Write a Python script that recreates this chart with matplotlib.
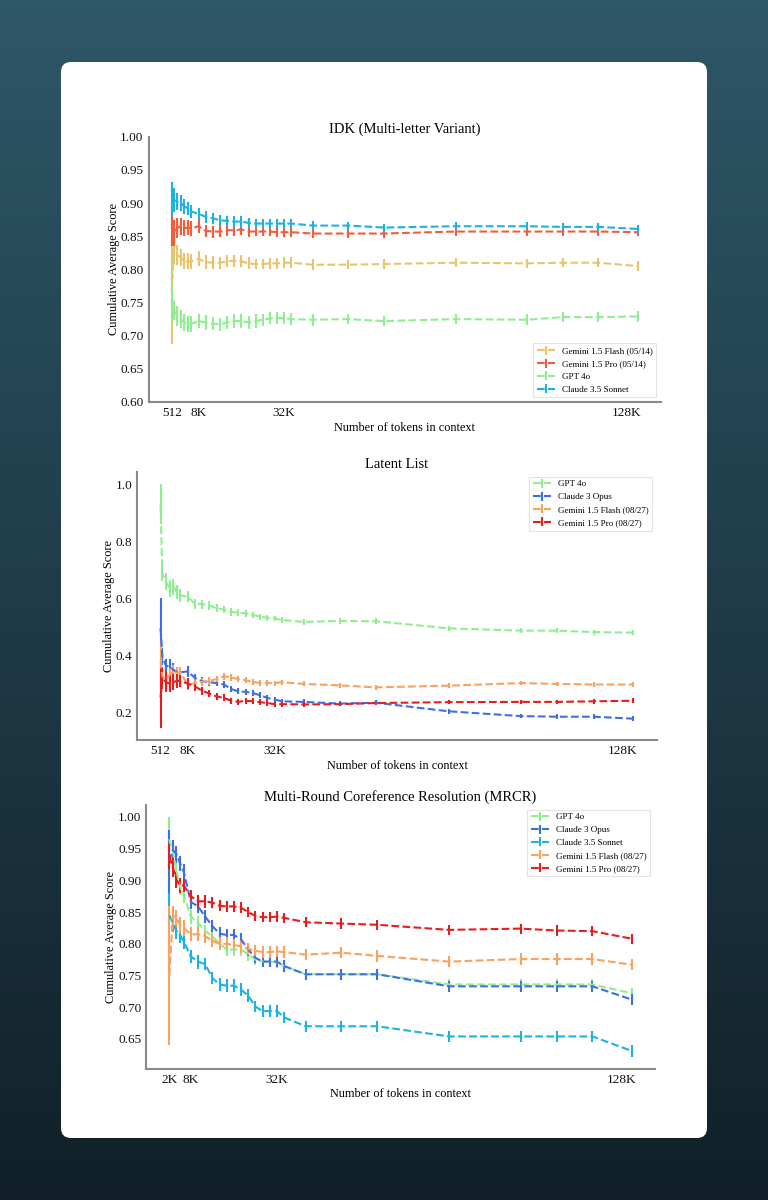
import numpy as np
import matplotlib
matplotlib.use("Agg")
import matplotlib.pyplot as plt
from matplotlib.patches import FancyBboxPatch

plt.rcParams['font.family'] = ['Liberation Serif', 'DejaVu Serif']

# ---------------- data ----------------
# x positions in thousands of tokens
X_IDK = [0.5, 1, 2, 3, 4, 5, 6, 8, 10, 12, 14, 16, 18, 20, 22, 24, 26, 28, 30, 32, 34,
         40, 50, 60, 80, 100, 110, 120, 131]
X_LATENT = X_IDK
X_MRCR = [2, 3, 4, 5, 6, 8, 10, 12, 14, 16, 18, 20, 22, 24, 26, 28, 30, 32, 34,
          40, 50, 60, 80, 100, 110, 120, 131]

TICKS_IDK = [0.5, 8, 32, 128]
TICKLABELS_IDK = ["512", "8K", "32K", "128K"]
TICKS_MRCR = [2, 8, 32, 128]
TICKLABELS_MRCR = ["2K", "8K", "32K", "128K"]

# IDK (Multi-letter Variant)
idk_flash = [0.765, 0.825, 0.822, 0.818, 0.812, 0.812, 0.812, 0.816, 0.811, 0.810, 0.810, 0.812,
             0.813, 0.812, 0.809, 0.808, 0.808, 0.809, 0.809, 0.810, 0.810, 0.807, 0.807, 0.808,
             0.810, 0.809, 0.810, 0.810, 0.805]
idk_flash_err = [0.078, 0.018, 0.015, 0.013, 0.012, 0.012, 0.011, 0.011, 0.010, 0.010, 0.009, 0.009,
                 0.009, 0.009, 0.009, 0.008, 0.008, 0.008, 0.008, 0.008, 0.008, 0.008, 0.007, 0.007,
                 0.007, 0.007, 0.007, 0.007, 0.007]
idk_pro = [0.868, 0.855, 0.862, 0.865, 0.862, 0.863, 0.862, 0.865, 0.858, 0.857, 0.857, 0.859,
           0.859, 0.860, 0.857, 0.857, 0.857, 0.857, 0.856, 0.856, 0.856, 0.854, 0.854, 0.854,
           0.857, 0.857, 0.857, 0.857, 0.856]
idk_pro_err = [0.033, 0.020, 0.015, 0.013, 0.012, 0.011, 0.011, 0.010, 0.009, 0.009, 0.008, 0.008,
               0.008, 0.008, 0.008, 0.007, 0.007, 0.007, 0.007, 0.007, 0.007, 0.007, 0.007, 0.006,
               0.006, 0.006, 0.006, 0.006, 0.006]
idk_gpt = [0.772, 0.738, 0.730, 0.725, 0.720, 0.718, 0.718, 0.722, 0.720, 0.718, 0.717, 0.720,
           0.722, 0.722, 0.720, 0.722, 0.724, 0.726, 0.727, 0.726, 0.725, 0.724, 0.725, 0.722,
           0.725, 0.724, 0.728, 0.728, 0.729]
idk_gpt_err = [0.050, 0.015, 0.015, 0.014, 0.013, 0.012, 0.012, 0.011, 0.011, 0.010, 0.010, 0.010,
               0.010, 0.010, 0.010, 0.010, 0.009, 0.009, 0.009, 0.009, 0.009, 0.009, 0.008, 0.008,
               0.008, 0.008, 0.008, 0.008, 0.008]
idk_sonnet = [0.907, 0.905, 0.902, 0.900, 0.895, 0.892, 0.887, 0.884, 0.879, 0.877, 0.874, 0.873,
              0.872, 0.872, 0.870, 0.869, 0.869, 0.869, 0.869, 0.869, 0.869, 0.866, 0.866, 0.863,
              0.865, 0.865, 0.864, 0.864, 0.861]
idk_sonnet_err = [0.025, 0.018, 0.013, 0.012, 0.011, 0.010, 0.010, 0.009, 0.009, 0.008, 0.008, 0.008,
                  0.008, 0.008, 0.007, 0.007, 0.007, 0.007, 0.007, 0.007, 0.007, 0.007, 0.006, 0.006,
                  0.006, 0.006, 0.006, 0.006, 0.006]

# Latent List
ll_gpt = [0.930, 0.686, 0.657, 0.634, 0.640, 0.622, 0.610, 0.605, 0.580, 0.579, 0.575, 0.564,
          0.560, 0.552, 0.549, 0.547, 0.541, 0.535, 0.531, 0.529, 0.523, 0.517, 0.520, 0.519,
          0.494, 0.486, 0.486, 0.481, 0.479]
ll_gpt_err = [0.070, 0.025, 0.030, 0.030, 0.028, 0.025, 0.022, 0.020, 0.018, 0.016, 0.015, 0.014,
              0.013, 0.013, 0.012, 0.012, 0.011, 0.011, 0.011, 0.010, 0.010, 0.010, 0.010, 0.010,
              0.009, 0.009, 0.009, 0.009, 0.009]
ll_opus = [0.495, 0.395, 0.363, 0.360, 0.349, 0.340, 0.340, 0.343, 0.320, 0.308, 0.305, 0.302,
           0.297, 0.281, 0.273, 0.271, 0.267, 0.259, 0.250, 0.244, 0.238, 0.236, 0.230, 0.233,
           0.203, 0.186, 0.184, 0.184, 0.177]
ll_opus_err = [0.105, 0.030, 0.025, 0.025, 0.022, 0.020, 0.020, 0.020, 0.015, 0.014, 0.013, 0.012,
               0.012, 0.011, 0.011, 0.010, 0.010, 0.010, 0.010, 0.009, 0.009, 0.009, 0.008, 0.008,
               0.008, 0.008, 0.008, 0.008, 0.008]
ll_flash = [0.380, 0.326, 0.314, 0.331, 0.343, 0.337, 0.340, 0.296, 0.302, 0.306, 0.310, 0.316,
            0.326, 0.322, 0.316, 0.312, 0.306, 0.302, 0.302, 0.302, 0.305, 0.299, 0.294, 0.287,
            0.293, 0.302, 0.299, 0.297, 0.297]
ll_flash_err = [0.070, 0.030, 0.028, 0.025, 0.022, 0.020, 0.020, 0.020, 0.015, 0.014, 0.013, 0.012,
                0.012, 0.011, 0.011, 0.010, 0.010, 0.010, 0.010, 0.009, 0.009, 0.009, 0.008, 0.008,
                0.008, 0.008, 0.008, 0.008, 0.008]
ll_pro = [0.252, 0.320, 0.305, 0.300, 0.305, 0.310, 0.310, 0.300, 0.290, 0.275, 0.265, 0.255,
          0.250, 0.240, 0.236, 0.240, 0.238, 0.235, 0.232, 0.228, 0.228, 0.227, 0.228, 0.232,
          0.235, 0.236, 0.236, 0.238, 0.240]
ll_pro_err = [0.107, 0.040, 0.035, 0.030, 0.028, 0.025, 0.022, 0.020, 0.015, 0.014, 0.013, 0.012,
              0.012, 0.011, 0.011, 0.010, 0.010, 0.010, 0.010, 0.009, 0.009, 0.009, 0.008, 0.008,
              0.008, 0.008, 0.008, 0.008, 0.008]

# MRCR
mr_gpt = [0.965, 0.945, 0.915, 0.890, 0.877, 0.843, 0.833, 0.820, 0.812, 0.800, 0.791, 0.791,
          0.791, 0.783, 0.775, 0.772, 0.772, 0.771, 0.765, 0.752, 0.752, 0.752, 0.736, 0.736,
          0.736, 0.736, 0.722]
mr_gpt_err = [0.035, 0.015, 0.014, 0.013, 0.012, 0.011, 0.011, 0.010, 0.010, 0.010, 0.010, 0.010,
              0.010, 0.010, 0.009, 0.009, 0.009, 0.009, 0.009, 0.009, 0.009, 0.009, 0.009, 0.009,
              0.009, 0.009, 0.009]
mr_opus = [0.930, 0.948, 0.941, 0.927, 0.914, 0.866, 0.859, 0.843, 0.828, 0.816, 0.814, 0.814,
           0.807, 0.791, 0.778, 0.772, 0.772, 0.772, 0.765, 0.752, 0.752, 0.752, 0.733, 0.733,
           0.733, 0.733, 0.712]
mr_opus_err = [0.050, 0.015, 0.013, 0.012, 0.012, 0.011, 0.011, 0.010, 0.010, 0.010, 0.010, 0.010,
               0.010, 0.010, 0.009, 0.009, 0.009, 0.009, 0.009, 0.009, 0.009, 0.009, 0.009, 0.009,
               0.009, 0.009, 0.009]
mr_sonnet = [0.845, 0.833, 0.820, 0.814, 0.804, 0.780, 0.772, 0.768, 0.746, 0.736, 0.734, 0.734,
             0.728, 0.718, 0.701, 0.694, 0.694, 0.694, 0.684, 0.670, 0.670, 0.670, 0.654, 0.654,
             0.654, 0.654, 0.631]
mr_sonnet_err = [0.035, 0.014, 0.013, 0.012, 0.012, 0.011, 0.011, 0.010, 0.010, 0.010, 0.010, 0.010,
                 0.010, 0.010, 0.009, 0.009, 0.009, 0.009, 0.009, 0.009, 0.009, 0.009, 0.009, 0.009,
                 0.009, 0.009, 0.009]
mr_flash = [0.750, 0.845, 0.840, 0.830, 0.825, 0.815, 0.815, 0.812, 0.805, 0.800, 0.800, 0.798,
            0.796, 0.792, 0.789, 0.787, 0.787, 0.788, 0.787, 0.783, 0.786, 0.781, 0.772, 0.776,
            0.776, 0.776, 0.767]
mr_flash_err = [0.110, 0.015, 0.014, 0.013, 0.012, 0.011, 0.011, 0.010, 0.010, 0.010, 0.010, 0.010,
                0.010, 0.009, 0.009, 0.009, 0.009, 0.009, 0.009, 0.009, 0.009, 0.009, 0.009, 0.009,
                0.009, 0.009, 0.009]
mr_pro = [0.938, 0.920, 0.901, 0.892, 0.892, 0.875, 0.867, 0.867, 0.865, 0.860, 0.859, 0.859,
          0.857, 0.850, 0.844, 0.842, 0.842, 0.843, 0.841, 0.834, 0.832, 0.830, 0.822, 0.824,
          0.821, 0.820, 0.808]
mr_pro_err = [0.020, 0.015, 0.013, 0.012, 0.011, 0.010, 0.010, 0.010, 0.009, 0.009, 0.009, 0.009,
              0.009, 0.008, 0.008, 0.008, 0.008, 0.008, 0.008, 0.008, 0.008, 0.008, 0.008, 0.008,
              0.008, 0.008, 0.008]

C_FLASH_OLD = '#eac46c'
C_PRO_OLD = '#f35b3d'
C_GPT = '#90ee90'
C_SONNET = '#1db1e4'
C_OPUS = '#3d6fe3'
C_FLASH_NEW = '#f9a15d'
C_PRO_NEW = '#e81c1c'

# ---------------- figure ----------------
W, H = 768, 1200
fig = plt.figure(figsize=(W / 100, H / 100), dpi=100)

bg = fig.add_axes([0, 0, 1, 1])
bg.set_xlim(0, W)
bg.set_ylim(0, H)
top = np.array([0x2e, 0x57, 0x68]) / 255
bot = np.array([0x11, 0x20, 0x29]) / 255
t = np.linspace(0, 1, 256)[:, None]
grad = (bot[None, :] * (1 - t) + top[None, :] * t)[:, None, :]
bg.imshow(grad, extent=[0, W, 0, H], origin='lower', aspect='auto', zorder=0)
card = FancyBboxPatch((61, H - 1138), 646, 1076, boxstyle="round,pad=0,rounding_size=10",
                      fc='white', ec='none', zorder=1)
bg.add_patch(card)
bg.axis('off')

SPINE_C = '#8a8a8a'


def make_axes(rect, title, x, series, ticks, ticklabels, loc, yfmt, ylim=None, yticks=None):
    ax = fig.add_axes(rect)
    ax.patch.set_alpha(0)
    for label, y, e, c in series:
        ax.errorbar(x, y, yerr=e, fmt='--', color=c, lw=1.5, elinewidth=1.5, capsize=0,
                    label=label)
    ax.set_xticks(ticks)
    ax.set_xticklabels(ticklabels)
    if ylim is not None:
        ax.set_ylim(*ylim)
    if yticks is not None:
        ax.set_yticks(yticks)
    ax.yaxis.set_major_formatter(plt.FormatStrFormatter(yfmt))
    for s in ['top', 'right']:
        ax.spines[s].set_visible(False)
    for s in ['left', 'bottom']:
        ax.spines[s].set_color(SPINE_C)
        ax.spines[s].set_linewidth(1.5)
    ax.tick_params(length=0, labelsize=9.5, pad=3.5, colors='#111111')
    ax.set_title(title, fontsize=10.5, pad=3)
    ax.set_xlabel('Number of tokens in context', fontsize=8.8, labelpad=2)
    ax.set_ylabel('Cumulative Average Score', fontsize=8.8, labelpad=0.5)
    leg = ax.legend(loc=loc, fontsize=6.5, frameon=True, fancybox=False)
    leg.get_frame().set_edgecolor('#dddddd')
    leg.get_frame().set_linewidth(0.8)
    return ax


make_axes([148.5 / W, (H - 402) / H, 512.3 / W, 265.3 / H],
          'IDK (Multi-letter Variant)', X_IDK,
          [('Gemini 1.5 Flash (05/14)', idk_flash, idk_flash_err, C_FLASH_OLD),
           ('Gemini 1.5 Pro (05/14)', idk_pro, idk_pro_err, C_PRO_OLD),
           ('GPT 4o', idk_gpt, idk_gpt_err, C_GPT),
           ('Claude 3.5 Sonnet', idk_sonnet, idk_sonnet_err, C_SONNET)],
          TICKS_IDK, TICKLABELS_IDK, 'lower right', '%.2f',
          ylim=(0.6, 1.0), yticks=np.arange(0.60, 1.001, 0.05))

make_axes([136.9 / W, (H - 740) / H, 520.1 / W, 268 / H],
          'Latent List', X_LATENT,
          [('GPT 4o', ll_gpt, ll_gpt_err, C_GPT),
           ('Claude 3 Opus', ll_opus, ll_opus_err, C_OPUS),
           ('Gemini 1.5 Flash (08/27)', ll_flash, ll_flash_err, C_FLASH_NEW),
           ('Gemini 1.5 Pro (08/27)', ll_pro, ll_pro_err, C_PRO_NEW)],
          TICKS_IDK, TICKLABELS_IDK, 'upper right', '%.1f',
          yticks=[0.2, 0.4, 0.6, 0.8, 1.0])

make_axes([146.2 / W, (H - 1068.7) / H, 508.8 / W, 263.7 / H],
          'Multi-Round Coreference Resolution (MRCR)', X_MRCR,
          [('GPT 4o', mr_gpt, mr_gpt_err, C_GPT),
           ('Claude 3 Opus', mr_opus, mr_opus_err, C_OPUS),
           ('Claude 3.5 Sonnet', mr_sonnet, mr_sonnet_err, C_SONNET),
           ('Gemini 1.5 Flash (08/27)', mr_flash, mr_flash_err, C_FLASH_NEW),
           ('Gemini 1.5 Pro (08/27)', mr_pro, mr_pro_err, C_PRO_NEW)],
          TICKS_MRCR, TICKLABELS_MRCR, 'upper right', '%.2f',
          yticks=np.arange(0.65, 1.001, 0.05))

fig.savefig('out.png', dpi=100)
